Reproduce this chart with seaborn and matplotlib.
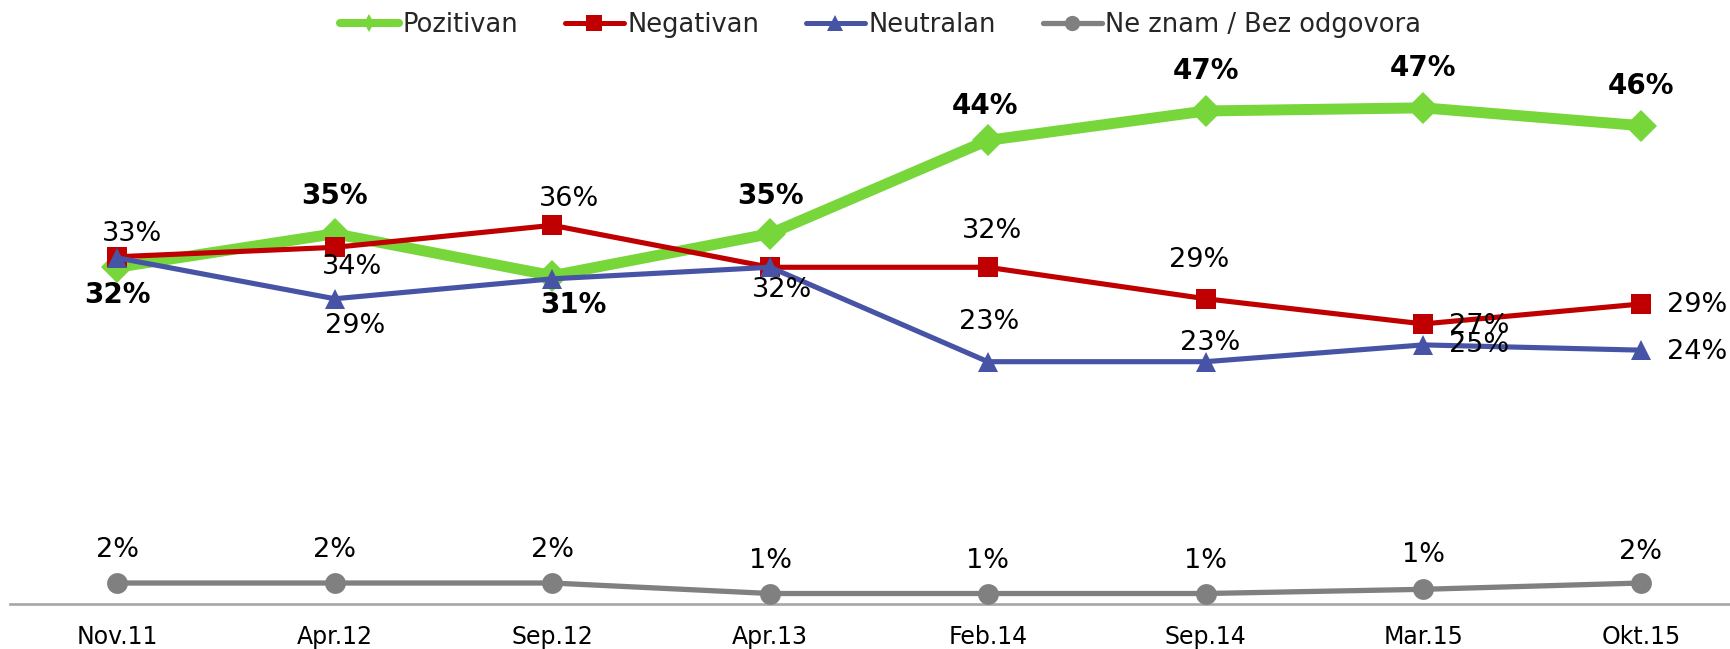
import matplotlib
matplotlib.use("Agg")
import matplotlib.pyplot as plt
import seaborn as sns
import pandas as pd
from matplotlib.lines import Line2D

# ---------------- data ----------------
categories = ["Nov.11", "Apr.12", "Sep.12", "Apr.13", "Feb.14", "Sep.14", "Mar.15", "Okt.15"]
pozitivan = [32.1, 35.3, 31.3, 35.3, 44.2, 47.0, 47.3, 45.6]
negativan = [33.1, 34.0, 36.1, 32.1, 32.1, 29.1, 26.7, 28.6]
neutralan = [33.0, 29.1, 31.0, 32.1, 23.1, 23.1, 24.7, 24.2]
ne_znam = [2.0, 2.0, 2.0, 1.0, 1.0, 1.0, 1.4, 2.0]
series_names = ["Pozitivan", "Negativan", "Neutralan", "Ne znam / Bez odgovora"]

# ---------------- styles ----------------
colors = ["#77D63A", "#C00000", "#4754A6", "#808080"]
markers = ["D", "s", "^", "o"]
marker_sizes = [16.3, 14.4, 14.6, 15.0]
line_widths = [7.9, 3.7, 3.7, 3.8]
bold_labels = [True, False, False, False]

# label offsets in pixels (dx, dy up); None = no label shown
label_offsets = [
    [(0, -28), (0, 38), (21, -29), (0, 38), (-3, 34), (0, 40), (0, 40), (0, 40)],
    [(15, 23), (17, -20), (17, 26), (12, -23), (4, 36), (-6, 39), (56, -2), (56, -1)],
    [None, (20, -27), None, None, (1, 40), (5, 19), (56, 0), (56, -2)],
    [(0, 33), (0, 33), (0, 33), (0, 33), (0, 33), (0, 33), (0, 34), (0, 31)],
]

sns.set_style("white")
plt.rcParams["font.family"] = ["DejaVu Sans"]

W, H = 1730, 649
fig = plt.figure(figsize=(W / 100, H / 100), dpi=100)
ax_left, ax_right, ax_bottom_px, ax_top_px = 10, 1730, 604, 50
ax = fig.add_axes([ax_left / W, (H - ax_bottom_px) / H,
                   (ax_right - ax_left) / W, (ax_bottom_px - ax_top_px) / H])

all_values = [pozitivan, negativan, neutralan, ne_znam]
for i, (name, vals) in enumerate(zip(series_names, all_values)):
    df = pd.DataFrame({"period": categories, "value": vals})
    sns.lineplot(data=df, x="period", y="value", ax=ax, sort=False,
                 color=colors[i], linewidth=line_widths[i],
                 marker=markers[i], markersize=marker_sizes[i],
                 markeredgewidth=0, markerfacecolor=colors[i],
                 zorder=3 + i, legend=False)

for i, vals in enumerate(all_values):
    for j, v in enumerate(vals):
        off = label_offsets[i][j]
        if off is None:
            continue
        ax.annotate(f"{v:.0f}%", xy=(categories[j], v), xytext=off,
                    textcoords="offset pixels", ha="center", va="center",
                    fontsize=20 if bold_labels[i] else 19.5, color="black",
                    fontweight="bold" if bold_labels[i] else "normal",
                    zorder=10, annotation_clip=False)

ax.set_xlim(-0.4915, 7.409)
ax.set_ylim(0, (ax_bottom_px - ax_top_px) / 10.49)
ax.set_xlabel("")
ax.set_ylabel("")
ax.set_yticks([])
ax.tick_params(axis="x", length=0, pad=15, labelsize=17, labelcolor="black")
for s in ["top", "left", "right"]:
    ax.spines[s].set_visible(False)
ax.spines["bottom"].set_color("#A6A6A6")
ax.spines["bottom"].set_linewidth(1.9)
ax.spines["bottom"].set_zorder(2)

# legend
leg_marker = ["d", "s", "^", "o"]
leg_msize = [8.7, 12.0, 11.0, 11.0]
leg_lw = [5.8, 3.6, 3.6, 3.8]
handles = [Line2D([], [], color=colors[k], lw=leg_lw[k], marker=leg_marker[k],
                  markersize=leg_msize[k], markeredgewidth=0,
                  solid_capstyle="round")
           for k in range(4)]
fig.legend(handles, series_names, loc="center", bbox_to_anchor=(0.509, 1 - 25 / H),
           ncol=4, frameon=False, fontsize=18.5, handlelength=2.3,
           handletextpad=0.15, columnspacing=1.8, borderpad=0, borderaxespad=0)

fig.savefig("out.png", dpi=100)
